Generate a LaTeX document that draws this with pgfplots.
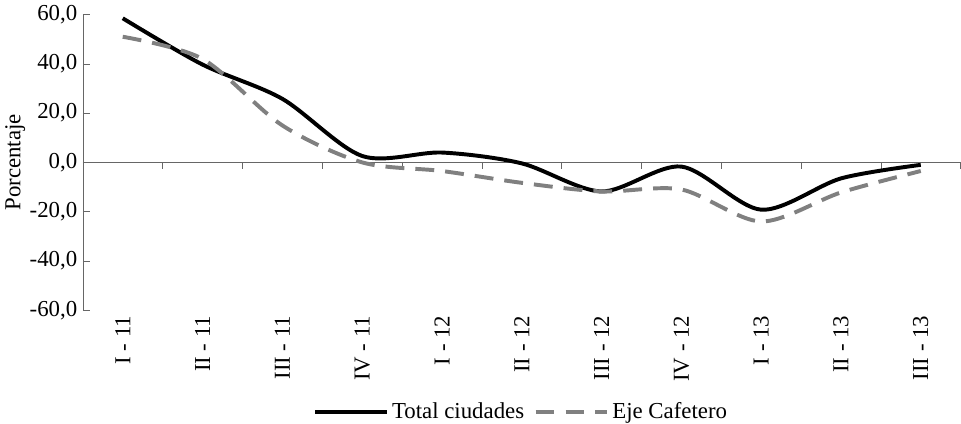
\documentclass[border=0pt]{standalone}
\usepackage{pgfplots}
\pgfplotsset{compat=1.18}
\usepackage{fontspec}
\setmainfont{Liberation Serif}
\begin{document}
\begin{tikzpicture}
\begin{axis}[width=19.6cm,height=6.6cm,scale only axis,
 xmin=-0.5,xmax=10.5,ymin=-60,ymax=60,
 axis y line*=left, axis x line*=bottom, x axis line style={draw=none},
 ytick={-60,-40,...,60},
 yticklabel style={/pgf/number format/.cd,fixed,fixed zerofill,precision=1,use comma},
 /pgf/number format/assume math mode=true,
 ylabel={Porcentaje}, ylabel style={yshift=-4pt},
 tick label style={font=\fontsize{14.5}{16}\selectfont},
 label style={font=\fontsize{14.5}{16}\selectfont},
 ytick style={black!60}, y axis line style={black!60},
 xtick={0,...,10}, x tick style={draw=none},
 xticklabels={I - 11,II - 11,III - 11,IV - 11,I - 12,II - 12,III - 12,IV - 12,I - 13,II - 13,III - 13},
 xticklabel style={rotate=90,anchor=east},
 legend style={at={(0.5,-0.30)},anchor=north,draw=none,inner sep=0pt,legend columns=2,font=\fontsize{14.5}{16}\selectfont,/tikz/every even column/.append style={column sep=4pt}},
 legend image code/.code={\draw[#1] (0cm,0cm) -- (1.6cm,0cm);},
 clip=false]
\addplot[black!60,forget plot] coordinates {(-0.5,0)(10.5,0)};
\addplot[black!60,ycomb,forget plot] coordinates {(-0.5,-2.5)(0.5,-2.5)(1.5,-2.5)(2.5,-2.5)(3.5,-2.5)(4.5,-2.5)(5.5,-2.5)(6.5,-2.5)(7.5,-2.5)(8.5,-2.5)(9.5,-2.5)(10.5,-2.5)};
\addplot[black,line width=2.5pt,smooth,tension=0.5] coordinates {(0,58.5)(1,39.7)(2,25.8)(3,2.6)(4,4)(5,-0.4)(6,-11.8)(7,-1.7)(8,-19.2)(9,-6.5)(10,-1)};
\addplot[gray,line width=2.5pt,dash pattern=on 12pt off 7pt,smooth,tension=0.5] coordinates {(0,51)(1,42)(2,15)(3,0)(4,-3.5)(5,-8.3)(6,-11.8)(7,-11)(8,-24)(9,-12.2)(10,-3.5)};
\legend{Total ciudades,Eje Cafetero}
\end{axis}
\end{tikzpicture}
\end{document}
